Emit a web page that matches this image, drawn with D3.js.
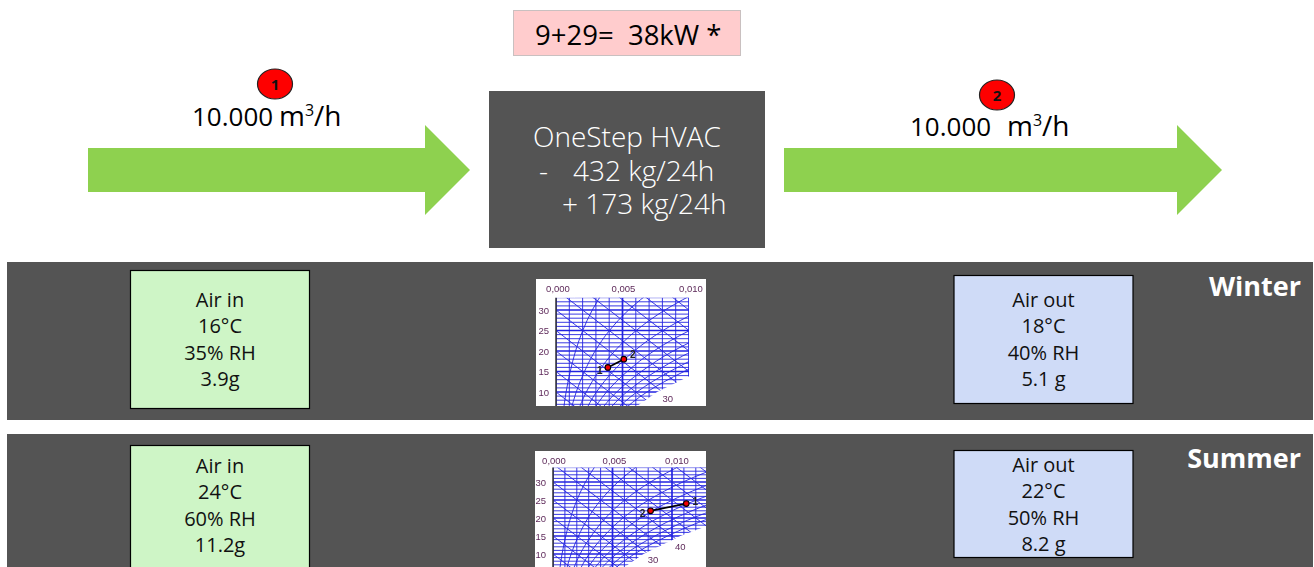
<!DOCTYPE html>
<html>
<head>
<meta charset="utf-8">
<script src="https://cdn.jsdelivr.net/npm/d3@7"></script>
<style>
  html, body { margin: 0; padding: 0; background: #fff; }
  svg { display: block; }
  text { font-family: "Open Sans", "Noto Sans", sans-serif; }
  .tiny { font-family: "Liberation Sans", sans-serif; }
</style>
</head>
<body>
<div id="chart"></div>
<script>
// values
const seasons = ["Winter", "Summer"]
const airInLabels = [["Air in", "16°C", "35% RH", "3.9g"], ["Air in", "24°C", "60% RH", "11.2g"]]
const airOutLabels = [["Air out", "18°C", "40% RH", "5.1 g"], ["Air out", "22°C", "50% RH", "8.2 g"]]
const powerLabel = "9+29=  38kW *"
const unitLines = ["OneStep HVAC", "-", "432 kg/24h", "+ 173 kg/24h"]
const flowLabels = ["10.000", "10.000"]

// state points on the psychrometric charts: [humidity ratio, temperature]
const winterPoints = [[0.0039, 16], [0.0051, 18]]
const summerPoints = [[0.0112, 24], [0.0082, 22]]

// saturation curve of the chart
const satTemp = [-5, 0, 5, 10, 15, 20, 25, 30, 35]
const satHum = [0.0025, 0.0038, 0.0054, 0.0076, 0.0107, 0.0147, 0.0201, 0.0273, 0.0366]
const rhCurves = [0.1, 0.2, 0.3, 0.4, 0.5, 0.6, 0.7, 0.8, 0.9]
// enthalpy lines: temperature where they start at x=0
const enthalpyStarts = [5, 10, 15, 20, 25, 30, 35, 40, 45, 50, 55, 60, 65, 70]
const enthalpyDrop = 2500 // degrees per unit of humidity ratio

const width = 1314, height = 567
const svg = d3.select("#chart").append("svg").attr("width", width).attr("height", height)
const defs = svg.append("defs")
defs.append("filter").attr("id", "soft").append("feGaussianBlur").attr("stdDeviation", 0.3)

// dark bands
const bands = [{ y: 262, h: 158 }, { y: 434, h: 133 }]
svg.selectAll("rect.band").data(bands).join("rect")
    .attr("class", "band")
    .attr("x", 7).attr("y", d => d.y).attr("width", 1306).attr("height", d => d.h)
    .attr("fill", "#545454")

svg.selectAll("text.season").data(seasons).join("text")
    .attr("class", "season")
    .attr("x", 1301)
    .attr("y", (d, i) => [296, 468][i])
    .attr("text-anchor", "end")
    .attr("font-size", 27).attr("font-weight", 700).attr("fill", "#fff")
    .text(d => d)

// power box
svg.append("rect").attr("x", 513.5).attr("y", 10.5).attr("width", 227).attr("height", 45)
    .attr("fill", "#ffcccd").attr("stroke", "#c9c0c0")
svg.append("text").attr("x", 535).attr("y", 45)
    .attr("font-size", 27.5).attr("fill", "#000").style("white-space", "pre").text(powerLabel)

// unit box
svg.append("rect").attr("x", 489).attr("y", 91).attr("width", 276).attr("height", 157).attr("fill", "#545454")
const unitX = [533, 539, 573, 562], unitY = [147, 181, 181, 214]
svg.selectAll("text.unit").data(unitLines).join("text")
    .attr("class", "unit")
    .attr("x", (d, i) => unitX[i]).attr("y", (d, i) => unitY[i])
    .attr("font-size", 28).attr("font-weight", 300).attr("fill", "#fff")
    .text(d => d)

// flow arrows
const arrowLine = d3.line()
const arrows = [{ x0: 88, x1: 425, x2: 470 }, { x0: 784, x1: 1177, x2: 1222 }]
svg.selectAll("path.arrow").data(arrows).join("path")
    .attr("class", "arrow")
    .attr("fill", "#8ed14f")
    .attr("d", d => arrowLine([[d.x0, 148], [d.x1, 148], [d.x1, 125], [d.x2, 170], [d.x1, 215], [d.x1, 192], [d.x0, 192]]) + "Z")

// flow labels
const flows = [
    { cx: 275, cy: 84, num: "1", x: 192, y: 126, ux: 279 },
    { cx: 997, cy: 95, num: "2", x: 910, y: 136, ux: 1007 }
]
const flowG = svg.selectAll("g.flow").data(flows).join("g").attr("class", "flow")
flowG.append("ellipse").attr("cx", d => d.cx).attr("cy", d => d.cy).attr("rx", 17.5).attr("ry", 15)
    .attr("fill", "#fe0000").attr("stroke", "#222").attr("stroke-width", 1.2)
flowG.append("text").attr("x", d => d.cx).attr("y", d => d.cy + 5.5).attr("text-anchor", "middle")
    .attr("font-size", 15).attr("font-weight", 700).attr("fill", "#111").text(d => d.num)
flowG.append("text").attr("x", d => d.x).attr("y", d => d.y)
    .attr("font-size", 26).attr("fill", "#000").text((d, i) => flowLabels[i])
const unitText = flowG.append("text").attr("x", d => d.ux).attr("y", d => d.y)
    .attr("font-size", 28).attr("fill", "#000")
unitText.append("tspan").text("m")
unitText.append("tspan").attr("dy", -10).attr("font-size", 16).text("3")
unitText.append("tspan").attr("dy", 10).text("/h")

// air boxes
const boxes = [
    { x: 130.5, y: 270.5, w: 179, h: 138, fill: "#cef5c6", lines: airInLabels[0] },
    { x: 954, y: 275.5, w: 179, h: 128, fill: "#cfdbf7", lines: airOutLabels[0] },
    { x: 130.5, y: 445.5, w: 179, h: 130, fill: "#cef5c6", lines: airInLabels[1] },
    { x: 954, y: 450.5, w: 179, h: 107, fill: "#cfdbf7", lines: airOutLabels[1] }
]
const firstLine = [307, 307, 473, 472]
const boxG = svg.selectAll("g.box").data(boxes).join("g").attr("class", "box")
boxG.append("rect")
    .attr("x", d => d.x).attr("y", d => d.y).attr("width", d => d.w).attr("height", d => d.h)
    .attr("fill", d => d.fill).attr("stroke", "#000").attr("stroke-width", 1.2)
boxG.each(function(d, bi) {
    d3.select(this).selectAll("text").data(d.lines).join("text")
        .attr("x", d.x + d.w / 2)
        .attr("y", (t, i) => firstLine[bi] + i * 26.3)
        .attr("text-anchor", "middle").attr("font-size", 20).attr("fill", "#111")
        .text(t => t)
})

// psychrometric chart thumbnail
function drawChart(cfg) {
    const g = svg.append("g")
    g.append("rect").attr("x", cfg.box[0]).attr("y", cfg.box[1]).attr("width", cfg.box[2]).attr("height", cfg.box[3]).attr("fill", "#fff")

    const xScale = d3.scaleLinear().domain([0, 0.01]).range(cfg.xRange)
    const yScale = d3.scaleLinear().domain([10, 30]).range(cfg.yRange)
    const clipId = "clip" + cfg.id

    // the grid only exists above the saturation curve and inside the plot
    const satLine = satTemp.map((t, i) => [xScale(satHum[i]), yScale(t)])
    const top = yScale(cfg.tMax)
    const left = xScale(0)
    const right = xScale(cfg.xMax)
    const boxBottom = cfg.box[1] + cfg.box[3]
    const clipPts = [[left, top], satLine[satLine.length - 1]]
        .concat(satLine.slice().reverse())
        .concat([[left, yScale(-5)]])
    defs.append("clipPath").attr("id", clipId)
        .append("path").attr("d", d3.line()(clipPts) + "Z")
    defs.append("clipPath").attr("id", clipId + "r")
        .append("rect").attr("x", left).attr("y", top).attr("width", right - left).attr("height", boxBottom - top)
    defs.append("clipPath").attr("id", clipId + "b")
        .append("rect").attr("x", cfg.box[0]).attr("y", cfg.box[1]).attr("width", cfg.box[2]).attr("height", cfg.box[3])

    const outer = g.append("g").attr("clip-path", `url(#${clipId}b)`)
    const soft = outer.append("g").attr("filter", "url(#soft)")
    const grid = soft.append("g").attr("clip-path", `url(#${clipId}r)`)
        .append("g").attr("clip-path", `url(#${clipId})`)
        .attr("fill", "none").attr("stroke", "#2424e0")

    // horizontal temperature lines
    grid.selectAll("line.t").data(d3.range(-5, cfg.tMax + 1)).join("line")
        .attr("x1", left).attr("x2", right)
        .attr("y1", d => yScale(d)).attr("y2", d => yScale(d))
        .attr("stroke-width", d => d % 5 == 0 ? 1.5 : 0.9)
    // vertical humidity lines
    grid.selectAll("line.x").data(d3.range(0, Math.round(cfg.xMax * 1000) + 1)).join("line")
        .attr("x1", d => xScale(d / 1000)).attr("x2", d => xScale(d / 1000))
        .attr("y1", top).attr("y2", boxBottom)
        .attr("stroke-width", d => d % 5 == 0 ? 1.7 : 0.9)
    // enthalpy lines
    grid.selectAll("line.h").data(enthalpyStarts).join("line")
        .attr("x1", xScale(0)).attr("y1", d => yScale(d))
        .attr("x2", xScale(0.03)).attr("y2", d => yScale(d - enthalpyDrop * 0.03))
        .attr("stroke-width", 0.9)
    // relative humidity curves
    const rhLine = d3.line().curve(d3.curveMonotoneY).x(d => xScale(d[0])).y(d => yScale(d[1]))
    grid.selectAll("path.rh").data(rhCurves).join("path")
        .attr("d", rh => rhLine(satTemp.map((t, i) => [satHum[i] * rh, t])))
        .attr("stroke-width", 0.9)

    // axes of the thumbnail
    soft.append("line").attr("x1", left).attr("x2", left).attr("y1", top).attr("y2", boxBottom)
        .attr("stroke", "#333").attr("stroke-width", 1.5)

    const tickG = soft.append("g").attr("font-size", 9.5).attr("fill", "#5e2a5a")
    tickG.selectAll("text.xt").data(cfg.xTicks).join("text")
        .attr("class", "tiny")
        .attr("x", (d, i) => xScale(d) + cfg.xTickDx[i]).attr("y", cfg.box[1] + 13)
        .attr("text-anchor", "middle")
        .text(d => d3.format(".3f")(d).replace(".", ","))
    tickG.selectAll("text.yt").data(cfg.yTicks).join("text")
        .attr("class", "tiny")
        .attr("x", left - 7).attr("y", d => yScale(d) + 3.5)
        .attr("text-anchor", "end")
        .text(d => d)
    tickG.selectAll("text.ht").data(cfg.hLabels).join("text")
        .attr("class", "tiny")
        .attr("x", d => xScale(d.x)).attr("y", d => yScale(d.t))
        .attr("text-anchor", "middle")
        .text(d => d.label)

    // process line and points
    const pLine = d3.line().x(d => xScale(d[0])).y(d => yScale(d[1]))
    soft.append("path").attr("d", pLine(cfg.points)).attr("stroke", "#000").attr("stroke-width", 1.7).attr("fill", "none")
    soft.selectAll("circle.pt").data(cfg.points).join("circle")
        .attr("cx", d => xScale(d[0])).attr("cy", d => yScale(d[1])).attr("r", 2.8)
        .attr("fill", "#f00000").attr("stroke", "#000").attr("stroke-width", 1.1)
    soft.selectAll("text.pt").data(cfg.points).join("text")
        .attr("class", "tiny")
        .attr("x", (d, i) => xScale(d[0]) + cfg.numDx[i]).attr("y", (d, i) => yScale(d[1]) + cfg.numDy[i])
        .attr("text-anchor", "middle").attr("font-size", 10).attr("font-weight", 700).attr("fill", "#222")
        .text((d, i) => i + 1)
}

drawChart({
    id: "w", box: [536, 279, 170, 127],
    xRange: [556, 689], yRange: [392, 310], xMax: 0.01, tMax: 33,
    xTicks: [0, 0.005, 0.01], xTickDx: [2, 1, 2], yTicks: [10, 15, 20, 25, 30],
    hLabels: [{ x: 0.0084, t: 7.6, label: "30" }],
    points: winterPoints, numDx: [-8, 9], numDy: [7, -1]
})
drawChart({
    id: "s", box: [535, 451, 171, 116],
    xRange: [553, 672], yRange: [554, 482], xMax: 0.0132, tMax: 34,
    xTicks: [0, 0.005, 0.01], xTickDx: [1, 2, 5], yTicks: [10, 15, 20, 25, 30],
    hLabels: [{ x: 0.0084, t: 7.5, label: "30" }, { x: 0.0107, t: 11, label: "40" }],
    points: summerPoints, numDx: [9, -8], numDy: [1, 6]
})
</script>
</body>
</html>
